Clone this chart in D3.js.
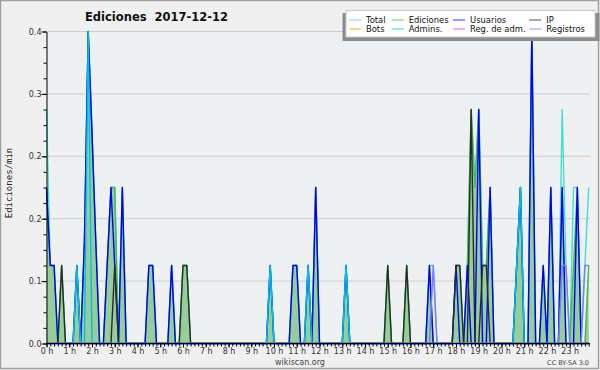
<!DOCTYPE html>
<html>
<head>
<meta charset="utf-8">
<script src="https://cdn.jsdelivr.net/npm/d3@7"></script>
<style>
  body { margin: 0; background: #f0f0f0; }
  svg { display: block; font-family: "DejaVu Sans", sans-serif; }
</style>
</head>
<body>
<svg id="chart" width="600" height="370"></svg>
<script>
// one day in 10-minute bins (144 bins), values in edits per minute.
// only the non-zero bins are listed: [bin, value]
const nBins = 144;
const total     = [[0,0.3],[1,0.1],[2,0.1],[4,0.1],[8,0.1],[10,0.13],[11,0.4],[12,0.27],[13,0.13],
                   [16,0.1],[17,0.2],[18,0.2],[20,0.2],[27,0.1],[28,0.1],[33,0.1],[36,0.1],[37,0.1],
                   [59,0.1],[65,0.1],[66,0.1],[69,0.1],[71,0.2],[79,0.1],[90,0.1],[95,0.1],[101,0.1],
                   [102,0.1],[108,0.1],[109,0.1],[111,0.1],[112,0.3],[113,0.2],[114,0.3],[115,0.1],
                   [116,0.1],[117,0.2],[124,0.1],[125,0.2],[128,0.4],[131,0.1],[133,0.2],[136,0.3],
                   [137,0.1],[139,0.2],[140,0.2],[142,0.1],[143,0.2]];
const ediciones = [[0,0.2],[1,0.1],[2,0.1],[4,0.1],[8,0.1],[10,0.13],[11,0.4],[12,0.27],[13,0.13],
                   [16,0.1],[17,0.2],[18,0.2],[20,0.2],[27,0.1],[28,0.1],[33,0.1],[36,0.1],[37,0.1],
                   [59,0.1],[65,0.1],[66,0.1],[69,0.1],[71,0.2],[79,0.1],[90,0.1],[95,0.1],[101,0.1],
                   [108,0.1],[109,0.1],[111,0.1],[112,0.3],[113,0.2],[114,0.3],[115,0.1],[116,0.1],
                   [117,0.2],[124,0.1],[125,0.2],[128,0.4],[131,0.1],[133,0.2],[136,0.2],[139,0.1],
                   [140,0.2],[143,0.1]];
const usuarios  = [[0,0.2],[1,0.1],[2,0.1],[8,0.1],[10,0.13],[11,0.4],[12,0.27],[13,0.13],[16,0.1],
                   [17,0.2],[18,0.1],[20,0.2],[27,0.1],[28,0.1],[33,0.1],[59,0.1],[65,0.1],[66,0.1],
                   [69,0.1],[71,0.2],[79,0.1],[101,0.1],[108,0.1],[111,0.1],[114,0.3],[117,0.2],
                   [124,0.1],[125,0.2],[128,0.4],[131,0.1],[133,0.2],[136,0.2],[140,0.2]];
const ip        = [[4,0.1],[18,0.1],[36,0.1],[37,0.1],[90,0.1],[95,0.1],[108,0.1],[109,0.1],
                   [112,0.3],[115,0.1],[116,0.1]];
const bots      = [];
const admins    = [[8,0.1],[11,0.4],[59,0.1],[69,0.1],[79,0.1],[124,0.1],[125,0.2]];
const regAdm    = [];
const registros = [[102,0.1],[136,0.1],[137,0.1],[142,0.1],[143,0.1]];

const legendNames = ["Total", "Ediciones", "Usuarios", "IP", "Bots", "Admins.", "Reg. de adm.", "Registros"];
const hourLabels = ["0 h","1 h","2 h","3 h","4 h","5 h","6 h","7 h","8 h","9 h","10 h","11 h",
                    "12 h","13 h","14 h","15 h","16 h","17 h","18 h","19 h","20 h","21 h","22 h","23 h"];
const yTicks = [0, 0.08, 0.16, 0.24, 0.32, 0.4];

// expand a sparse list into a full day
function dense(pairs) {
    const a = new Array(nBins).fill(0);
    pairs.forEach(([i, v]) => { a[i] = v; });
    return a;
}

const colors = {
    "Total": "#40e0d0",
    "Ediciones": "#44bb44",
    "Usuarios": "#0000ff",
    "IP": "#2b2b2b",
    "Bots": "#ff9900",
    "Admins.": "#00c0f0",
    "Reg. de adm.": "#e040e0",
    "Registros": "#7b7bff"
};

const svg = d3.select("#chart");
const plotLeft = 46.5, plotRight = 590, plotTop = 31.5, plotBottom = 343.5;

const x = d3.scaleLinear().domain([0, 24]).range([plotLeft, plotLeft + 24 * 22.75]);
const y = d3.scaleLinear().domain([0, 0.4]).range([plotBottom, plotTop]);

// background + frame
svg.append("rect").attr("width", 600).attr("height", 370).attr("fill", "#f0f0f0");
svg.append("rect").attr("x", plotLeft).attr("y", plotTop)
    .attr("width", plotRight - plotLeft).attr("height", plotBottom - plotTop)
    .attr("fill", "#eef0f2");
svg.append("rect").attr("x", 0.5).attr("y", 0.5).attr("width", 598).attr("height", 368)
    .attr("fill", "none").attr("stroke", "#a0a0a0").attr("stroke-width", 1.5);

// horizontal grid
svg.append("g").selectAll("line").data(yTicks).join("line")
    .attr("x1", plotLeft).attr("x2", plotRight)
    .attr("y1", d => y(d)).attr("y2", d => y(d))
    .attr("stroke", "#cdcdcd");

// series
const bx = (d, i) => x(i / 6);
const line = d3.line().x(bx).y(d => y(d));
const area = d3.area().x(bx).y0(y(0)).y1(d => y(d));

svg.append("path").datum(dense(ediciones))
    .attr("d", area).attr("fill", "#96cd98");

const drawOrder = [
    ["Total", total], ["Ediciones", ediciones], ["Bots", bots], ["Reg. de adm.", regAdm],
    ["Usuarios", usuarios], ["IP", ip], ["Admins.", admins], ["Registros", registros]
];
drawOrder.forEach(([name, data]) => {
    svg.append("path").datum(dense(data))
        .attr("d", line)
        .attr("fill", "none")
        .attr("stroke", colors[name])
        .attr("stroke-width", 1.4)
        .attr("stroke-linejoin", "round");
});

// y axis
const yAxis = svg.append("g").attr("transform", `translate(${plotLeft},0)`)
    .call(d3.axisLeft(y).tickValues(yTicks).tickFormat(d3.format(".1f")).tickSize(5).tickSizeOuter(0));
yAxis.select(".domain").attr("stroke", "#000");
yAxis.selectAll("text").attr("x", -5).attr("fill", "#333")
    .style("font-size", "8px").style("font-family", "DejaVu Sans");
svg.append("g").attr("transform", `translate(${plotLeft},0)`)
    .call(d3.axisLeft(y).tickValues(d3.range(0, 0.401, 0.02)).tickFormat("").tickSize(3).tickSizeOuter(0))
    .select(".domain").remove();

// x axis: hour labels + 10 minute ticks
const xAxis = svg.append("g").attr("transform", `translate(0,${plotBottom})`)
    .call(d3.axisBottom(x).tickValues(d3.range(24)).tickFormat(d => hourLabels[d]).tickSize(4).tickSizeOuter(0));
xAxis.select(".domain").attr("d", `M${plotLeft},0H${plotRight}`).attr("stroke", "#000");
xAxis.selectAll("text").attr("y", 5).attr("fill", "#333")
    .style("font-size", "8px").style("font-family", "DejaVu Sans");
svg.append("g").attr("transform", `translate(0,${plotBottom})`)
    .call(d3.axisBottom(x).tickValues(d3.range(nBins).map(i => i / 6)).tickFormat("").tickSize(3).tickSizeOuter(0))
    .select(".domain").remove();

// titles
svg.append("text").attr("x", 85).attr("y", 21)
    .style("font-size", "11.5px").style("font-weight", "bold").attr("fill", "#111")
    .style("white-space", "pre").text("Ediciones  2017-12-12");
svg.append("text").attr("transform", "translate(12,183) rotate(-90)")
    .attr("text-anchor", "middle").attr("fill", "#222")
    .style("font-size", "9px").style("font-family", "'DejaVu Sans Mono', monospace")
    .text("Ediciones/min");
svg.append("text").attr("x", 300).attr("y", 365).attr("text-anchor", "middle")
    .style("font-size", "8px").attr("fill", "#444").text("wikiscan.org");
svg.append("text").attr("x", 589).attr("y", 365).attr("text-anchor", "end")
    .style("font-size", "6.5px").attr("fill", "#444").text("CC BY-SA 3.0");

// legend
const legend = svg.append("g");
legend.append("rect").attr("x", 342.5).attr("y", 13).attr("width", 257).attr("height", 28).attr("fill", "#8c8c8c");
legend.append("rect").attr("x", 346).attr("y", 10.5).attr("width", 249).attr("height", 26.5)
    .attr("fill", "#fff").attr("stroke", "#c8c8c8");
const legendCols = [349, 391.7, 453, 529.3];
legendNames.forEach((name, k) => {
    const cx = legendCols[k % 4], cy = k < 4 ? 20 : 29;
    legend.append("line").attr("x1", cx).attr("x2", cx + 12).attr("y1", cy).attr("y2", cy)
        .attr("stroke", colors[name]).attr("stroke-opacity", 0.8);
    legend.append("text").attr("x", cx + 17).attr("y", cy + 3.2).attr("fill", "#111")
        .style("font-size", "8.4px").text(name);
});
</script>
</body>
</html>
